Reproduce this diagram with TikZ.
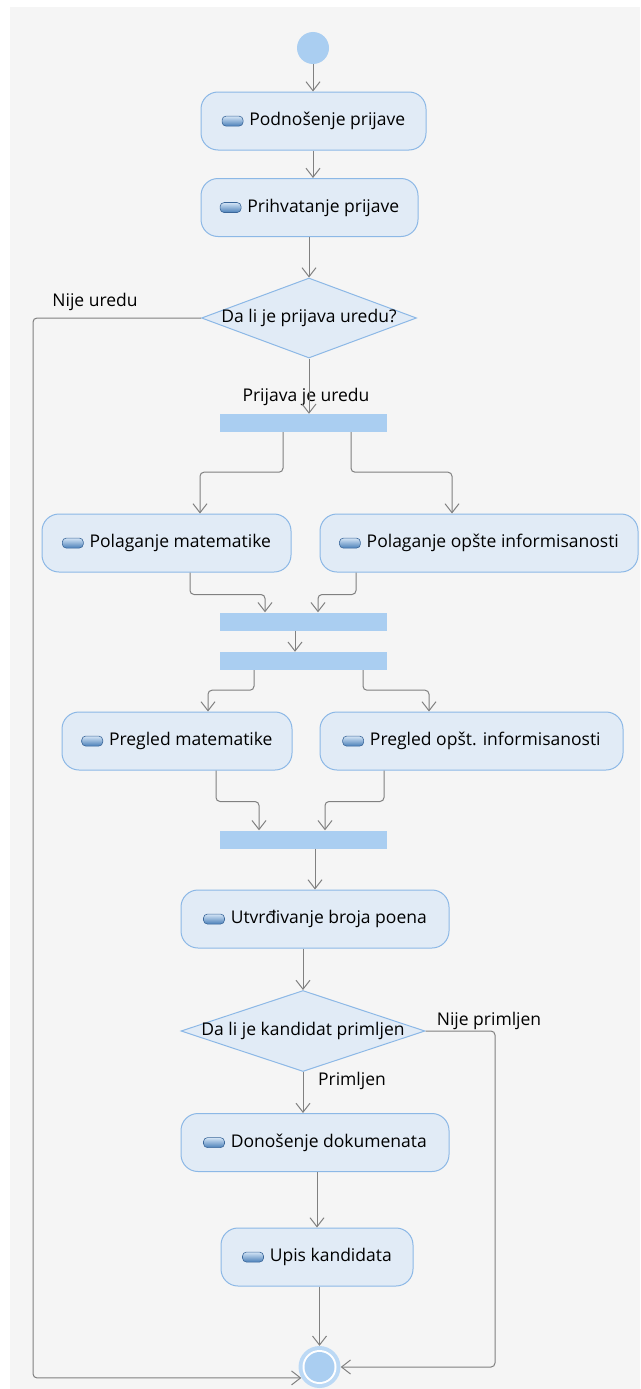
\documentclass[tikz,border=0pt]{standalone}
\usepackage{fontspec}
\setmainfont{Open Sans}
\usetikzlibrary{arrows.meta,shapes.geometric}
\definecolor{bg}{HTML}{F5F5F5}
\definecolor{boxfill}{HTML}{E1EBF6}
\definecolor{boxdraw}{HTML}{8CB8E6}
\definecolor{barc}{HTML}{AACEF1}
\definecolor{ringc}{HTML}{BCD9F5}
\definecolor{edge}{HTML}{808080}
\definecolor{iconlight}{HTML}{D4E5F6}
\definecolor{icondark}{HTML}{4A7FB8}
\definecolor{iconline}{HTML}{3A6699}
\newcommand{\pillicon}{\tikz[baseline={(0pt,0pt)}]{\shade[top color=iconlight,bottom color=icondark,draw=iconline,line width=0.6pt,rounded corners=4pt] (0pt,-0.5pt) rectangle (21pt,9.5pt);}\hspace{6pt}}
\begin{document}
\begin{tikzpicture}[x=1pt,y=-1pt,
  font=\fontsize{17.5}{20}\selectfont,
  act/.style={draw=boxdraw,fill=boxfill,rounded corners=17pt,line width=1pt,inner sep=0pt,minimum height=58pt},
  bar/.style={fill=barc,inner sep=0pt,minimum width=167pt,minimum height=18pt},
  dia/.style={diamond,draw=boxdraw,fill=boxfill,line width=1pt,inner sep=0pt},
  conn/.style={draw=edge,line width=1pt,rounded corners=4pt,-{Straight Barb[length=9pt,width=14pt,line width=1pt]}},
  lbl/.style={inner sep=0pt,text=black}]
\useasboundingbox (0,0) rectangle (640,1389);
\fill[white] (0,0) rectangle (640,1389);
\fill[bg] (10,7) rectangle (640,1389);

% start
\node[circle,fill=barc,minimum size=32pt,inner sep=0pt] (start) at (313,48) {};
% actions
\node[act,minimum width=225pt] (podn) at (313.5,121) {\pillicon Podnošenje prijave};
\node[act,minimum width=217pt] (prih) at (309.5,207.5) {\pillicon Prihvatanje prijave};
\node[dia,minimum width=215pt,minimum height=80pt] (d1) at (309,318) {};
\node[lbl] (d1t) at (d1) {Da li je prijava uredu?};
\node[bar] (f1) at (303.5,423) {};
\node[act,minimum width=249pt] (polm) at (166.5,543) {\pillicon Polaganje matematike};
\node[act,minimum width=318pt] (polo) at (479,543) {\pillicon Polaganje opšte informisanosti};
\node[bar] (f2) at (303.5,621.5) {};
\node[bar] (f3) at (303.5,661) {};
\node[act,minimum width=230pt] (pregm) at (177,741) {\pillicon Pregled matematike};
\node[act,minimum width=303pt] (prego) at (471.5,741) {\pillicon Pregled opšt. informisanosti};
\node[bar] (f4) at (303.5,839.5) {};
\node[act,minimum width=268pt] (utv) at (315,919) {\pillicon Utvrđivanje broja poena};
\node[dia,minimum width=244pt,minimum height=81pt] (d2) at (303,1031) {};
\node[lbl] (d2t) at (d2) {Da li je kandidat primljen};
\node[act,minimum width=268pt] (don) at (315,1142.5) {\pillicon Donošenje dokumenata};
\node[act,minimum width=192pt] (upis) at (317,1257) {\pillicon Upis kandidata};
% end
\node[circle,fill=ringc,minimum size=42pt,inner sep=0pt] (end) at (319.5,1367) {};
\fill[white] (end) circle (17pt);
\fill[barc] (end) circle (15pt);

\coordinate (L) at (33,0);
\coordinate (R) at (495,0);

% labels
\node[lbl] (l1) at (95,302) {Nije uredu};
\node[lbl] (l2) at (306,397) {Prijava je uredu};
\node[lbl] (l3) at (489,1021) {Nije primljen};
\node[lbl] (l4) at (352,1081) {Primljen};

% connectors
\draw[conn] (start.south) -- (start.south |- podn.north);
\draw[conn] (podn.south -| start) -- (start |- prih.north);
\draw[conn] (d1.north |- prih.south) -- (d1.north);
\draw[conn] (d1.south) -- (d1.south |- f1.north);
\draw[conn] ([xshift=-20.5pt]f1.south) -- ++(0,40) -| ([xshift=33.5pt]polm.north);
\draw[conn] ([xshift=47.5pt]f1.south) -- ++(0,40) -| ([xshift=-27pt]polo.north);
\draw[conn] ([xshift=23.5pt]polm.south) -- ++(0,22) -| ([xshift=-38.5pt]f2.north);
\draw[conn] ([xshift=-123pt]polo.south) -- ++(0,22) -| ([xshift=14.5pt]f2.north);
\draw[conn] ([xshift=-8.5pt]f2.south) -- ([xshift=-8.5pt]f3.north);
\draw[conn] ([xshift=-49.5pt]f3.south) -- ++(0,20) -| ([xshift=31pt]pregm.north);
\draw[conn] ([xshift=59.5pt]f3.south) -- ++(0,20) -| ([xshift=-42.5pt]prego.north);
\draw[conn] ([xshift=39pt]pregm.south) -- ++(0,31) -| ([xshift=-44.5pt]f4.north);
\draw[conn] ([xshift=-87.5pt]prego.south) -- ++(0,31) -| ([xshift=21.5pt]f4.north);
\draw[conn] (utv.north |- f4.south) -- (utv.north);
\draw[conn] (d2.north |- utv.south) -- (d2.north);
\draw[conn] (d2.south) -- (d2.south |- don.north);
\draw[conn] (upis.north |- don.south) -- (upis.north);
\draw[conn] (end.north |- upis.south) -- (end.north);
\draw[conn] (d1.west) -| (L |- end.211) -- (end.211);
\draw[conn] (d2.east) -| (R |- end.east) -- (end.east);
\end{tikzpicture}
\end{document}
